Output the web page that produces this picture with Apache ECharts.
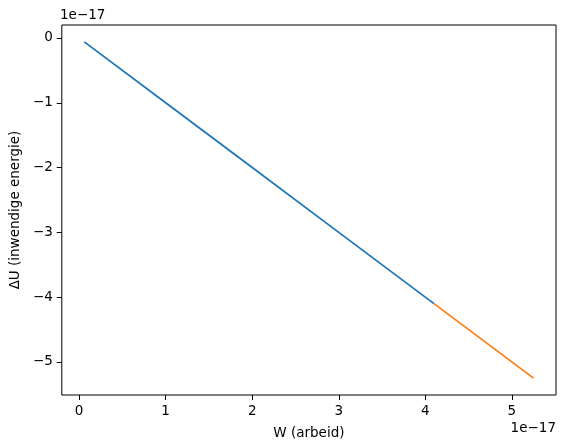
<!DOCTYPE html>
<html><head><meta charset="utf-8">
<script src="https://cdn.jsdelivr.net/npm/echarts@6/dist/echarts.min.js"></script>
<style>html,body{margin:0;padding:0;background:#fff}#c{width:565px;height:448px}</style>
</head><body><div id="c"></div>
<script>
// values in units of 1e-17
const blueX = [0.06, 1.0, 2.0, 3.0, 4.1];
const blueY = [-0.06, -1.0, -2.0, -3.0, -4.1];
const orangeX = [4.1, 5.25];
const orangeY = [-4.1, -5.25];
const xTicks = [0, 1, 2, 3, 4, 5];
const yTicks = [-5, -4, -3, -2, -1, 0];
const xLabel = 'W (arbeid)';
const yLabel = 'ΔU (inwendige energie)';
const offsetText = '1e\u221217';

const font = 'DejaVu Sans';
const chart = echarts.init(document.getElementById('c'), null, {renderer: 'canvas'});
const axisCommon = {
  axisLine: {show: true, onZero: false, lineStyle: {color: 'rgba(0,0,0,0)', width: 1}},
  axisTick: {show: true, inside: false, length: 5, lineStyle: {color: '#000', width: 1}},
  axisLabel: {color: '#000', fontFamily: font, fontSize: 13.5},
  splitLine: {show: false},
  nameTextStyle: {color: '#000', fontFamily: font, fontSize: 13.5}
};
chart.setOption({
  animation: false,
  grid: {left: 60, right: 9, top: 25, bottom: 53, show: true, borderColor: '#000', borderWidth: 1, backgroundColor: 'transparent'},
  xAxis: Object.assign({}, axisCommon, {
    type: 'value', min: -0.2, max: 5.51,
    name: xLabel, nameLocation: 'middle', nameGap: 31,
    axisTick: Object.assign({}, axisCommon.axisTick, {customValues: xTicks}),
    axisLabel: Object.assign({}, axisCommon.axisLabel, {customValues: xTicks, margin: 9})
  }),
  yAxis: Object.assign({}, axisCommon, {
    type: 'value', min: -5.51, max: 0.2,
    name: yLabel, nameLocation: 'middle', nameGap: 34,
    axisTick: Object.assign({}, axisCommon.axisTick, {customValues: yTicks}),
    axisLabel: Object.assign({}, axisCommon.axisLabel, {customValues: yTicks, margin: 9,
      formatter: v => String(v).replace('-', '\u2212')})
  }),
  graphic: [
    {type: 'text', left: 60, top: 8, style: {text: offsetText, fill: '#000', font: '13.5px "DejaVu Sans"'}},
    {type: 'text', right: 9, top: 421, style: {text: offsetText, fill: '#000', font: '13.5px "DejaVu Sans"'}}
  ],
  series: [
    {type: 'line', data: blueX.map((x, i) => [x, blueY[i]]), showSymbol: false, lineStyle: {color: '#1f77b4', width: 1.8}, itemStyle: {color: '#1f77b4'}},
    {type: 'line', data: orangeX.map((x, i) => [x, orangeY[i]]), showSymbol: false, lineStyle: {color: '#ff7f0e', width: 1.8}, itemStyle: {color: '#ff7f0e'}}
  ]
});
</script></body></html>
